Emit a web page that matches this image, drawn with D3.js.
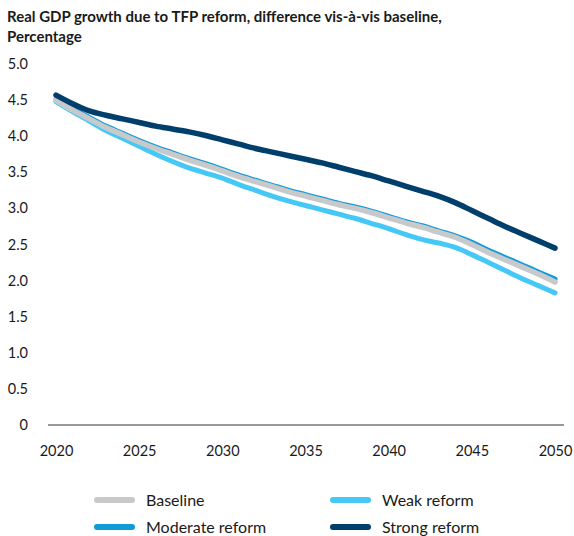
<!DOCTYPE html>
<html>
<head>
<meta charset="utf-8">
<script src="https://cdn.jsdelivr.net/npm/d3@7"></script>
<style>
  html, body { margin: 0; padding: 0; background: #fff; }
  svg { display: block; font-family: Lato, "Open Sans", sans-serif; }
</style>
</head>
<body>
<svg id="chart" width="574" height="536"></svg>
<script>
const years = d3.range(2020, 2051);
const baseline = [4.50,4.36,4.24,4.12,4.02,3.92,3.83,3.75,3.67,3.60,3.52,3.44,3.37,3.30,3.23,3.17,3.11,3.05,3.00,2.94,2.87,2.80,2.74,2.67,2.60,2.50,2.39,2.29,2.19,2.09,1.98];
const moderate = [4.51,4.38,4.26,4.14,4.04,3.94,3.85,3.77,3.69,3.62,3.54,3.46,3.39,3.32,3.25,3.19,3.13,3.07,3.02,2.96,2.89,2.82,2.76,2.69,2.62,2.53,2.42,2.32,2.22,2.12,2.02];
const weak = [4.48,4.34,4.21,4.08,3.97,3.86,3.75,3.65,3.56,3.49,3.42,3.33,3.25,3.17,3.10,3.04,2.98,2.92,2.86,2.79,2.72,2.64,2.57,2.52,2.46,2.36,2.25,2.14,2.03,1.93,1.83];
const strong = [4.57,4.45,4.35,4.29,4.24,4.19,4.14,4.10,4.06,4.01,3.95,3.89,3.83,3.78,3.73,3.68,3.63,3.57,3.51,3.45,3.38,3.31,3.24,3.17,3.08,2.97,2.86,2.75,2.65,2.55,2.45];
const yTicks = [0,0.5,1,1.5,2,2.5,3,3.5,4,4.5,5];
const xTicks = [2020,2025,2030,2035,2040,2045,2050];
const titleLines = ["Real GDP growth due to TFP reform, difference vis-à-vis baseline,", "Percentage"];

const seriesDraw = [
  { name: "Weak reform", values: weak, color: "#45c8f5", width: 5 },
  { name: "Moderate reform", values: moderate, color: "#0f9ad8", width: 5 },
  { name: "Baseline", values: baseline, color: "#c8c9cb", width: 5.5 },
  { name: "Strong reform", values: strong, color: "#003e6b", width: 5.5 }
];
const legendItems = [
  { name: "Baseline", color: "#c8c9cb" },
  { name: "Weak reform", color: "#45c8f5" },
  { name: "Moderate reform", color: "#0f9ad8" },
  { name: "Strong reform", color: "#003e6b" }
];

const svg = d3.select("#chart");
const x = d3.scaleLinear().domain([2020, 2050]).range([56, 555]);
const y = d3.scaleLinear().domain([0, 5]).range([425, 64]);

// title
svg.append("g").selectAll("text").data(titleLines).join("text")
  .attr("x", 7).attr("y", (d, i) => 22 + i * 20)
  .attr("font-size", 15).attr("font-weight", 700).attr("fill", "#1a1a1a")
  .text(d => d);

// y axis labels
svg.append("g").selectAll("text").data(yTicks).join("text")
  .attr("x", 28).attr("y", d => y(d)).attr("dy", "0.35em")
  .attr("text-anchor", "end").attr("font-size", 14.5).attr("fill", "#1a1a1a")
  .text(d => d === 0 ? "0" : d3.format(".1f")(d));

// x axis
const xAxis = d3.axisBottom(x).tickValues(xTicks).tickFormat(d3.format("d")).tickSize(0).tickPadding(21);
const gx = svg.append("g").attr("transform", `translate(0,${y(0)})`).call(xAxis);
gx.select(".domain").remove();
gx.selectAll("text").attr("font-size", 14.5).attr("fill", "#1a1a1a").attr("font-family", "Lato, 'Open Sans', sans-serif");
svg.append("line").attr("x1", 48).attr("x2", 564).attr("y1", y(0)).attr("y2", y(0))
  .attr("stroke", "#333").attr("stroke-width", 1.2);

// lines
const line = d3.line().x((d, i) => x(years[i])).y(d => y(d)).curve(d3.curveMonotoneX);
svg.append("g").selectAll("path").data(seriesDraw).join("path")
  .attr("d", d => line(d.values))
  .attr("fill", "none").attr("stroke", d => d.color).attr("stroke-width", d => d.width)
  .attr("stroke-linecap", "round").attr("stroke-linejoin", "round");

// legend
const lg = svg.append("g").selectAll("g").data(legendItems).join("g")
  .attr("transform", (d, i) => `translate(${i % 2 === 0 ? 97 : 333},${i < 2 ? 500 : 527})`);
lg.append("line").attr("x1", 0).attr("x2", 35).attr("stroke", d => d.color)
  .attr("stroke-width", 6).attr("stroke-linecap", "round");
lg.append("text").attr("x", 49).attr("dy", "0.35em").attr("font-size", 16).attr("fill", "#1a1a1a")
  .text(d => d.name);
</script>
</body>
</html>
